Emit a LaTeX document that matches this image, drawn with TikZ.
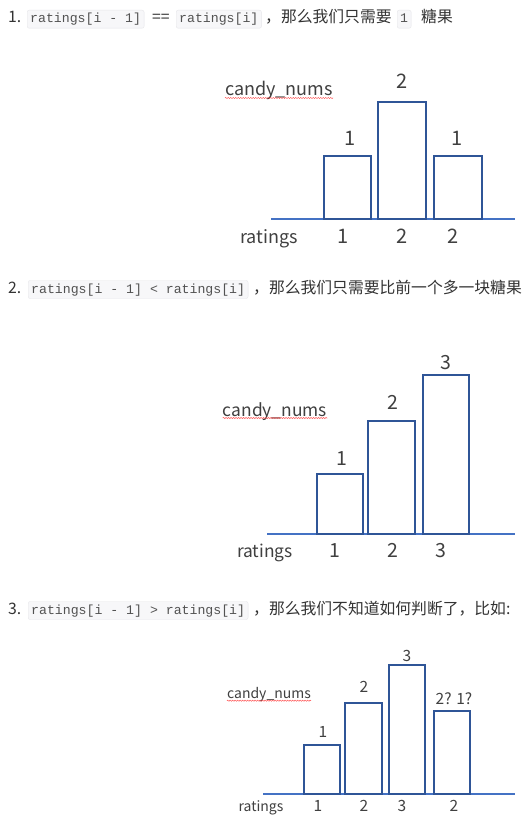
\documentclass[tikz,border=0pt]{standalone}
\usepackage{fontspec}
\newfontfamily\cjk{Noto Sans CJK SC}
\newfontfamily\codefont{Liberation Mono}
\usetikzlibrary{positioning,decorations.pathmorphing}
\definecolor{barblue}{HTML}{2F5597}
\definecolor{axisblue}{HTML}{4472C4}
\definecolor{codebg}{HTML}{F7F7F9}
\definecolor{codeline}{HTML}{E6E6EA}
\definecolor{txt}{HTML}{333333}
\tikzset{
  head/.style={anchor=base west, inner sep=0pt, text=txt, font=\cjk\fontsize{15.8}{18}\selectfont},
  code/.style={anchor=base west, fill=codebg, draw=codeline, rounded corners=2pt,
    inner xsep=3pt, inner ysep=2.5pt, text height=10pt, text depth=3pt,
    text=txt!85, font=\codefont\fontsize{13.2}{16}\selectfont},
  bar/.style={draw=barblue, line width=2.8pt},
  axis/.style={draw=axisblue, line width=2.2pt},
  num/.style={anchor=base, inner sep=0pt, text=black!75, font=\cjk\fontsize{#1}{#1}\selectfont},
  num/.default=20,
  squiggle/.style={draw=red!70, line width=0.5pt, decorate,
    decoration={snake, amplitude=0.6pt, segment length=2.5pt}},
}
\begin{document}
\begin{tikzpicture}[x=1pt,y=-1pt]
  \useasboundingbox[fill=white] (0,0) rectangle (530,826);
  % case 1: equal ratings
  \node[head] (n1) at (8,22.7) {1.};
  \node[code] (r1a) at (27,22.7) {ratings[i - 1]};
  \node[head] (eq1) at (152,22.7) {==};
  \node[code] (r1b) at (176,22.7) {ratings[i]};
  \node[head] (t1a) at (265,22.7) {，那么我们只需要};
  \node[code] (one1) at (397,22.7) {1};
  \node[head] (t1b) at (421,22.7) {糖果};

  \draw[axis] (271,219) -- (515,219);
  \draw[bar] (324,219) rectangle (371,156);
  \draw[bar] (378,219) rectangle (426,102);
  \draw[bar] (434,219) rectangle (482,156);
  \node[num] (c1a) at (350,146) {1};
  \node[num] (c1b) at (402,88.3) {2};
  \node[num] (c1c) at (457,146) {1};
  \node[num=18] (cn1) at (279,96) {candy\_nums};
  \draw[squiggle] ([yshift=-2pt]cn1.base west) -- ([yshift=-2pt]cn1.base east);
  \node[num=18] (rt1) at (269,243) {ratings};
  \node[num] (r1x) at (343,243) {1};
  \node[num] (r1y) at (402,243) {2};
  \node[num] (r1z) at (453,243) {2};

  % case 2: increasing ratings
  \node[head] (n2) at (8,293) {2.};
  \node[code] (r2) at (28,293) {ratings[i - 1] < ratings[i]};
  \node[head] (t2) at (253,293) {，那么我们只需要比前一个多一块糖果};

  \draw[axis] (267,534) -- (515,534);
  \draw[bar] (317,534) rectangle (363,474);
  \draw[bar] (368,534) rectangle (415,421);
  \draw[bar] (423,534) rectangle (469,375);
  \node[num=19.5] (c2a) at (342,465) {1};
  \node[num=19.5] (c2b) at (393,409.3) {2};
  \node[num=19.5] (c2c) at (446,369.3) {3};
  \node[num=17.4] (cn2) at (275,416) {candy\_nums};
  \draw[squiggle] ([yshift=-2pt]cn2.base west) -- ([yshift=-2pt]cn2.base east);
  \node[num=17.4] (rt2) at (265,557.3) {ratings};
  \node[num=19.5] (r2x) at (335,557.3) {1};
  \node[num=19.5] (r2y) at (393,557.3) {2};
  \node[num=19.5] (r2z) at (441,557.3) {3};

  % case 3: decreasing ratings
  \node[head] (n3) at (8,614) {3.};
  \node[code] (r3) at (28,614) {ratings[i - 1] > ratings[i]};
  \node[head] (t3) at (253,614) {，那么我们不知道如何判断了，比如:};

  \draw[axis] (263,794) -- (515,794);
  \draw[bar] (304,794) rectangle (340,745);
  \draw[bar] (345,794) rectangle (382,703);
  \draw[bar] (389,794) rectangle (425,665);
  \draw[bar] (434,794) rectangle (470,711);
  \node[num=15.5] (c3a) at (323,737.7) {1};
  \node[num=15.5] (c3b) at (364,692.7) {2};
  \node[num=15.5] (c3c) at (407,661.7) {3};
  \node[num=15.5] (c3d) at (454,704) {2? 1?};
  \node[num=14] (cn3) at (269,698.7) {candy\_nums};
  \draw[squiggle] ([yshift=-2pt]cn3.base west) -- ([yshift=-2pt]cn3.base east);
  \node[num=14] (rt3) at (261,811.7) {ratings};
  \node[num=15.5] (r3w) at (318,811.7) {1};
  \node[num=15.5] (r3x) at (364,811.7) {2};
  \node[num=15.5] (r3y) at (402,811.7) {3};
  \node[num=15.5] (r3z) at (454,811.7) {2};
\end{tikzpicture}
\end{document}
